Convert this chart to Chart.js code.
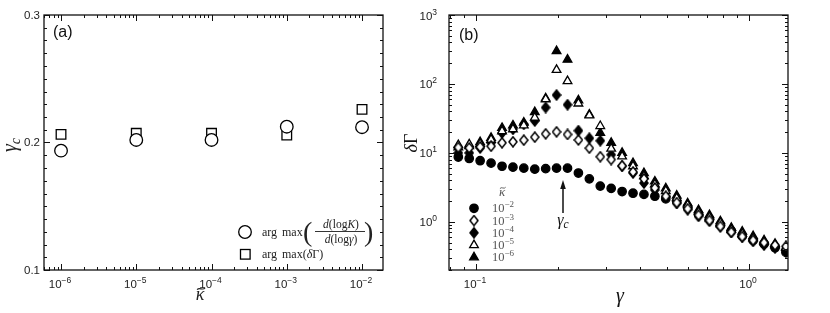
<!DOCTYPE html>
<html>
<head>
<meta charset="utf-8">
<script src="https://cdn.jsdelivr.net/npm/chart.js@4.4.1/dist/chart.umd.min.js"></script>
<style>
html, body { margin: 0; padding: 0; background: #fff; }
#wrap { position: relative; width: 830px; height: 313px; overflow: hidden; }
#chartA { position: absolute; left: 0; top: 0; }
#chartB { position: absolute; left: 395px; top: 0; }
</style>
</head>
<body>
<div id="wrap">
  <canvas id="chartA" width="395" height="313"></canvas>
  <canvas id="chartB" width="435" height="313"></canvas>
</div>
<script>
// ---- panel (a): gamma_c vs kappa ----
const kappa = [1e-6, 1e-5, 1e-4, 1e-3, 1e-2];
const gcFromK = [0.1936, 0.2020, 0.2020, 0.2124, 0.2120];
const gcFromDG = [0.2064, 0.2072, 0.2072, 0.2059, 0.2260];
const kappaTicks = [1e-6, 1e-5, 1e-4, 1e-3, 1e-2];
const kappaTickExp = ['−6', '−5', '−4', '−3', '−2'];
const gcTicks = [0.1, 0.2, 0.3];
const gcTickLabels = ['0.1', '0.2', '0.3'];

// ---- panel (b): delta Gamma vs gamma ----
const gamma = [0.0861, 0.0944, 0.1035, 0.1135, 0.1245, 0.1365, 0.1496, 0.1641, 0.1799, 0.1972,
               0.2163, 0.2371, 0.2600, 0.2851, 0.3126, 0.3428, 0.3758, 0.4121, 0.4519, 0.4955,
               0.5433, 0.5957, 0.6531, 0.7161, 0.7852, 0.8610, 0.9441, 1.035, 1.135, 1.245, 1.365];
const dG_k2 = [8.7, 8.3, 7.7, 7.1, 6.4, 6.2, 6.0, 5.8, 5.9, 6.0,
               6.0, 5.1, 4.2, 3.3, 3.05, 2.75, 2.6, 2.5, 2.35, 2.15,
               2.0, 1.65, 1.3, 1.1, 0.9, 0.74, 0.62, 0.54, 0.48, 0.42, 0.36];
const dG_k3 = [12.0, 11.8, 12.2, 12.5, 14.0, 14.5, 15.3, 16.9, 18.9, 20.2,
               18.5, 15.4, 11.7, 8.8, 8.0, 6.5, 5.3, 4.2, 3.1, 2.35,
               1.9, 1.55, 1.25, 1.05, 0.86, 0.71, 0.61, 0.54, 0.50, 0.46, 0.44];
const dG_k4 = [10.0, 10.0, 11.8, 14.0, 19.5, 22.0, 26.0, 29.0, 45.5, 69.0,
               50.0, 21.0, 16.3, 15.0, 9.4, 6.4, 5.1, 3.65, 2.9, 2.3,
               1.85, 1.5, 1.2, 1.02, 0.85, 0.70, 0.60, 0.52, 0.46, 0.42, 0.37];
const dG_k5 = [13.0, 13.3, 13.5, 15.5, 20.6, 22.0, 25.0, 32.5, 60.0, 160,
               110, 52, 35, 24.5, 11.5, 8.9, 6.4, 4.6, 3.5, 2.8,
               2.2, 1.75, 1.38, 1.17, 0.96, 0.77, 0.67, 0.58, 0.51, 0.46, 0.42];
const dG_k6 = [12.0, 12.5, 14.3, 16.5, 23.0, 25.0, 27.5, 39.0, 62.0, 300,
               225, 58, 36, 19.5, 14.0, 10.0, 7.1, 5.1, 3.85, 3.07,
               2.4, 1.85, 1.48, 1.25, 1.02, 0.82, 0.72, 0.62, 0.54, 0.48, 0.43];
const gammaTicks = [0.1, 1];
const gammaTickExp = ['−1', '0'];
const dGTicks = [1, 10, 100, 1000];
const dGTickExp = ['0', '1', '2', '3'];
const legendExp = ['−2', '−3', '−4', '−5', '−6'];

const SERIF = '"Liberation Serif", "DejaVu Serif", serif';
const R = s => s + 'px ' + SERIF;
const I = s => 'italic ' + s + 'px ' + SERIF;
const SANS = '"Liberation Sans", "DejaVu Sans", sans-serif';
const S = s => s + 'px ' + SANS;

// draw a row of text pieces [text, font, dy]
function runs(ctx, parts, x, y, align) {
    let w = 0;
    parts.forEach(p => { ctx.font = p[1]; w += ctx.measureText(p[0]).width; });
    let cx = x;
    if (align === 'center') cx = x - w / 2;
    if (align === 'right') cx = x - w;
    parts.forEach(p => {
        ctx.font = p[1];
        ctx.fillText(p[0], cx, y + (p[2] || 0));
        cx += ctx.measureText(p[0]).width;
    });
    return w;
}

// power-of-ten label: "10" with a raised exponent
function pow10(exp) {
    return [['10', S(11.5)], [exp, S(8.5), -5]];
}

// kappa with a tilde on top
function kappaTilde(ctx, x, y, size, color) {
    ctx.fillStyle = color;
    ctx.strokeStyle = color;
    ctx.textAlign = 'center';
    ctx.font = I(size);
    ctx.fillText('κ', x, y);
    ctx.textAlign = 'left';
    const w = size * 0.22, h = size * 0.09;
    const cx = x + size * 0.06, cy = y - size * 0.62;
    ctx.lineWidth = Math.max(0.9, size / 16);
    ctx.beginPath();
    ctx.moveTo(cx - w, cy + h * 0.6);
    ctx.bezierCurveTo(cx - w * 0.5, cy - h * 1.5, cx + w * 0.5, cy + h * 1.5, cx + w, cy - h * 0.6);
    ctx.stroke();
}

function logMarks(min, max) {
    const out = [];
    for (let e = Math.floor(Math.log10(min)); e <= Math.ceil(Math.log10(max)); e++) {
        for (let m = 1; m < 10; m++) {
            const v = m * Math.pow(10, e);
            if (v >= min * 0.999 && v <= max * 1.001) out.push({ v, major: m === 1 });
        }
    }
    return out;
}

// box with inward ticks on all four sides
function drawFrame(chart, xMarks, yMarks) {
    const { ctx, chartArea: a } = chart;
    const xs = chart.scales.x, ys = chart.scales.y;
    ctx.save();
    ctx.strokeStyle = '#111';
    ctx.lineWidth = 1;
    ctx.beginPath();
    xMarks.forEach(m => {
        const px = Math.round(xs.getPixelForValue(m.v)) + 0.5;
        const len = m.major ? 6 : 3;
        ctx.moveTo(px, a.bottom); ctx.lineTo(px, a.bottom - len);
        ctx.moveTo(px, a.top); ctx.lineTo(px, a.top + len);
    });
    yMarks.forEach(m => {
        const py = Math.round(ys.getPixelForValue(m.v)) + 0.5;
        const len = m.major ? 6 : 3;
        ctx.moveTo(a.left, py); ctx.lineTo(a.left + len, py);
        ctx.moveTo(a.right, py); ctx.lineTo(a.right - len, py);
    });
    ctx.stroke();
    ctx.lineWidth = 1.3;
    ctx.strokeRect(a.left, a.top, a.right - a.left, a.bottom - a.top);
    ctx.restore();
}

function diamond(filled) {
    const c = document.createElement('canvas');
    c.width = 10; c.height = 12;
    const g = c.getContext('2d');
    g.beginPath();
    g.moveTo(5, 1); g.lineTo(9, 6); g.lineTo(5, 11); g.lineTo(1, 6);
    g.closePath();
    g.fillStyle = filled ? '#000' : '#fff';
    g.fill();
    g.lineWidth = 1.5;
    g.strokeStyle = '#000';
    g.stroke();
    return c;
}
const diamondOpen = diamond(false);
const diamondFull = diamond(true);

const hiddenTicks = { display: false };

// ---------------- panel (a) ----------------
const aMarksX = logMarks(5.94e-7, 0.019);
const aMarksY = [];
for (let i = 10; i <= 30; i++) aMarksY.push({ v: i / 100, major: i % 10 === 0 });

new Chart(document.getElementById('chartA'), {
    type: 'scatter',
    data: {
        datasets: [
            {
                label: 'arg max d(logK)/d(log gamma)',
                data: kappa.map((k, i) => ({ x: k, y: gcFromK[i] })),
                pointStyle: 'circle', pointRadius: 6.3,
                pointBackgroundColor: '#fff', pointBorderColor: '#000', pointBorderWidth: 1.3
            },
            {
                label: 'arg max(dGamma)',
                data: kappa.map((k, i) => ({ x: k, y: gcFromDG[i] })),
                pointStyle: 'rect', pointRadius: 6.8,
                pointBackgroundColor: '#fff', pointBorderColor: '#000', pointBorderWidth: 1.3
            }
        ]
    },
    options: {
        responsive: false,
        animation: false,
        events: [],
        layout: { padding: { left: 0, right: 12, top: 15, bottom: 0 } },
        plugins: { legend: { display: false }, tooltip: { enabled: false } },
        scales: {
            x: {
                type: 'logarithmic', min: 5.94e-7, max: 0.019,
                grid: { display: false, drawTicks: false }, border: { display: false },
                afterFit: s => { s.height = 43; },
                ticks: hiddenTicks
            },
            y: {
                type: 'linear', min: 0.1, max: 0.3,
                grid: { display: false, drawTicks: false }, border: { display: false },
                afterFit: s => { s.width = 44; },
                ticks: hiddenTicks
            }
        }
    },
    plugins: [{
        id: 'frameA',
        afterDatasetsDraw(chart) {
            drawFrame(chart, aMarksX, aMarksY);
            const ctx = chart.ctx;
            const a = chart.chartArea;
            ctx.save();
            // tick labels
            ctx.fillStyle = '#222';
            kappaTicks.forEach((v, i) => {
                runs(ctx, pow10(kappaTickExp[i]), chart.scales.x.getPixelForValue(v) - 1, a.bottom + 18, 'center');
            });
            ctx.textBaseline = 'middle';
            ctx.textAlign = 'right';
            ctx.font = S(11.5);
            gcTicks.forEach((v, i) => {
                ctx.fillText(gcTickLabels[i], a.left - 4, chart.scales.y.getPixelForValue(v) + 0.5);
            });
            ctx.textAlign = 'left';
            ctx.fillStyle = '#111';
            ctx.font = S(16);
            ctx.fillText('(a)', 53, 33);
            ctx.textBaseline = 'alphabetic';
            // axis titles
            kappaTilde(ctx, 200, 300, 18, '#222');
            ctx.fillStyle = '#222';
            ctx.save();
            ctx.translate(13, 145);
            ctx.rotate(-Math.PI / 2);
            runs(ctx, [['γ', I(20)], ['c', I(14), 4]], 0, 3, 'center');
            ctx.restore();
            // legend
            ctx.strokeStyle = '#000';
            ctx.lineWidth = 1.3;
            ctx.beginPath(); ctx.arc(245, 232, 6.3, 0, Math.PI * 2); ctx.stroke();
            ctx.strokeRect(240.5, 249.5, 9.6, 9.6);
            ctx.fillStyle = '#222';
            ctx.font = R(12);
            ctx.fillText('arg', 262, 236);
            ctx.fillText('max', 282, 236);
            ctx.font = R(28);
            ctx.fillText('(', 303, 241);
            ctx.fillText(')', 364, 241);
            runs(ctx, [['d', I(11.5)], ['(log', R(11.5)], ['K', I(11.5)], [')', R(11.5)]], 341, 228, 'center');
            runs(ctx, [['d', I(11.5)], ['(log', R(11.5)], ['γ', I(11.5)], [')', R(11.5)]], 341, 243, 'center');
            ctx.lineWidth = 0.8;
            ctx.beginPath(); ctx.moveTo(315, 231.5); ctx.lineTo(365, 231.5); ctx.stroke();
            ctx.font = R(12);
            ctx.fillText('arg', 262, 258);
            runs(ctx, [['max(', R(12)], ['δ', I(12)], ['Γ)', R(12)]], 282, 258);
            ctx.restore();
        }
    }]
});

// ---------------- panel (b) ----------------
const bMarksX = logMarks(0.0796, 1.389);
const bMarksY = logMarks(0.2, 1000);

const seriesB = [
    { name: '1e-2', values: dG_k2, style: 'circle', r: 4.2, fill: '#000', order: 3 },
    { name: '1e-3', values: dG_k3, style: diamondOpen, r: 5, fill: '#fff', order: 1 },
    { name: '1e-4', values: dG_k4, style: diamondFull, r: 5, fill: '#000', order: 4 },
    { name: '1e-5', values: dG_k5, style: 'triangle', r: 5, fill: '#fff', order: 2 },
    { name: '1e-6', values: dG_k6, style: 'triangle', r: 5, fill: '#000', order: 5 }
];

new Chart(document.getElementById('chartB'), {
    type: 'scatter',
    data: {
        datasets: seriesB.map(s => ({
            label: s.name,
            data: gamma.map((g, i) => ({ x: g, y: s.values[i] })),
            pointStyle: s.style, pointRadius: s.r, order: s.order,
            pointBackgroundColor: s.fill, pointBorderColor: '#000', pointBorderWidth: 1.3
        }))
    },
    options: {
        responsive: false,
        animation: false,
        events: [],
        layout: { padding: { left: 0, right: 42, top: 15, bottom: 0 } },
        plugins: { legend: { display: false }, tooltip: { enabled: false } },
        scales: {
            x: {
                type: 'logarithmic', min: 0.0796, max: 1.389,
                grid: { display: false, drawTicks: false }, border: { display: false },
                afterFit: s => { s.height = 43; },
                ticks: hiddenTicks
            },
            y: {
                type: 'logarithmic', min: 0.2, max: 1000,
                grid: { display: false, drawTicks: false }, border: { display: false },
                afterFit: s => { s.width = 54; },
                ticks: hiddenTicks
            }
        }
    },
    plugins: [{
        id: 'frameB',
        afterDatasetsDraw(chart) {
            drawFrame(chart, bMarksX, bMarksY);
            const ctx = chart.ctx;
            const a = chart.chartArea;
            ctx.save();
            // tick labels
            ctx.fillStyle = '#222';
            gammaTicks.forEach((v, i) => {
                runs(ctx, pow10(gammaTickExp[i]), chart.scales.x.getPixelForValue(v) - 1, a.bottom + 18, 'center');
            });
            dGTicks.forEach((v, i) => {
                runs(ctx, pow10(dGTickExp[i]), a.left - 12, chart.scales.y.getPixelForValue(v) + 4.5, 'right');
            });
            ctx.fillStyle = '#111';
            ctx.textBaseline = 'middle';
            ctx.font = S(16);
            ctx.fillText('(b)', 64, 36);
            ctx.textBaseline = 'alphabetic';
            // axis titles
            ctx.font = I(20);
            ctx.textAlign = 'center';
            ctx.fillText('γ', 225, 302);
            ctx.textAlign = 'left';
            ctx.save();
            ctx.translate(17, 143);
            ctx.rotate(-Math.PI / 2);
            runs(ctx, [['δ', I(18)], ['Γ', R(18)]], 0, 5, 'center');
            ctx.restore();
            // gamma_c arrow
            ctx.strokeStyle = '#111';
            ctx.lineWidth = 1.5;
            ctx.beginPath(); ctx.moveTo(168, 213); ctx.lineTo(168, 187); ctx.stroke();
            ctx.beginPath(); ctx.moveTo(168, 180); ctx.lineTo(170.8, 189); ctx.lineTo(165.2, 189);
            ctx.closePath(); ctx.fill();
            runs(ctx, [['γ', I(16)], ['c', I(11.5), 3]], 168, 225, 'center');
            // legend
            kappaTilde(ctx, 107, 196, 13, '#555');
            seriesB.forEach((s, i) => {
                const y = 208.3 + i * 12.25;
                ctx.fillStyle = s.fill;
                ctx.strokeStyle = '#000';
                ctx.lineWidth = 1.3;
                Chart.helpers.drawPoint(ctx, { pointStyle: s.style, radius: s.r, rotation: 0, borderWidth: 1.3 }, 79, y);
                ctx.fillStyle = '#555';
                runs(ctx, [['10', R(12.5)], [legendExp[i], R(9), -5]], 97, y + 4);
            });
            ctx.restore();
        }
    }]
});
</script>
</body>
</html>
